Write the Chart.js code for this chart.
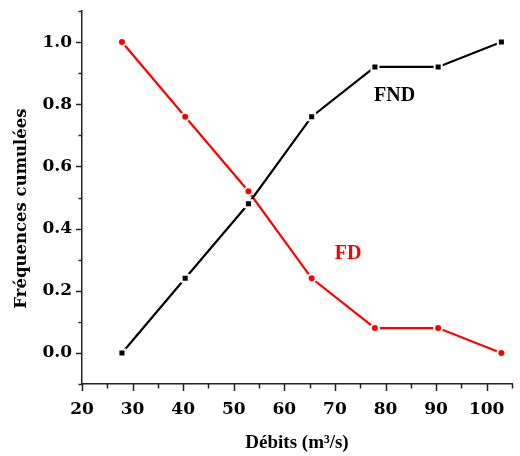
<!DOCTYPE html>
<html>
<head>
<meta charset="utf-8">
<script src="https://cdn.jsdelivr.net/npm/chart.js@4.4.1/dist/chart.umd.min.js"></script>
<style>
  html,body{margin:0;padding:0;background:#fff;}
  #wrap{width:520px;height:456px;}
</style>
</head>
<body>
<div id="wrap"><canvas id="chart" width="520" height="456"></canvas></div>
<script>
// debits (m3/s) and cumulated frequencies
const debits=[27.9,40.4,52.9,65.4,77.9,90.4,102.9];
const fnd=[0,0.24,0.48,0.76,0.92,0.92,1.0];
const fd=[1.0,0.76,0.52,0.24,0.08,0.08,0.0];
const xTickLabels=[20,30,40,50,60,70,80,90,100];
const yTickLabels=[0.0,0.2,0.4,0.6,0.8,1.0];

// series name labels, placed in data units
const seriesLabels=[
  { text:'FND', x:81.8, y:0.827, color:'#000' },
  { text:'FD', x:72.6, y:0.318, color:'#ff0000' }
];

const tickFont={ family:'DejaVu Serif', weight:'bold', size:17 };
const isMajorY=(v)=> yTickLabels.some((t)=> Math.abs(t-v)<1e-6);

const axisTicks={
  id:'axisTicks',
  afterDraw(chart){
    const { ctx, scales:{ x, y } }=chart;
    ctx.save();
    ctx.strokeStyle='#222';
    ctx.lineWidth=1.5;
    x.ticks.forEach((t)=>{
      const px=Math.round(x.getPixelForValue(t.value))+0.5;
      const len=xTickLabels.includes(t.value) ? 7 : 4.5;
      ctx.beginPath(); ctx.moveTo(px,x.top); ctx.lineTo(px,x.top+len); ctx.stroke();
    });
    y.ticks.forEach((t)=>{
      const py=Math.round(y.getPixelForValue(t.value))+0.5;
      const len=isMajorY(t.value) ? 6 : 3.5;
      ctx.beginPath(); ctx.moveTo(y.right,py); ctx.lineTo(y.right-len,py); ctx.stroke();
    });
    ctx.textAlign='center';
    ctx.textBaseline='middle';
    ctx.font='bold 20px "Liberation Serif"';
    seriesLabels.forEach((l)=>{
      ctx.fillStyle=l.color;
      ctx.fillText(l.text,x.getPixelForValue(l.x),y.getPixelForValue(l.y));
    });
    // y title, a little below the middle of the axis as in the source
    ctx.fillStyle='#000';
    ctx.font='bold 16.5px "DejaVu Serif"';
    ctx.translate(y.left+22,(y.top+y.bottom)/2+11);
    ctx.rotate(-Math.PI/2);
    ctx.fillText('Fréquences cumulées',0,0);
    ctx.restore();
  }
};

new Chart(document.getElementById('chart'),{
  type:'line',
  data:{
    datasets:[{
      label:'FND',
      data:debits.map((d,i)=>({ x:d, y:fnd[i] })),
      borderColor:'#000',
      borderWidth:2.2,
      pointStyle:'rect',
      pointRadius:5,
      pointBackgroundColor:'#000',
      pointBorderColor:'#fff',
      pointBorderWidth:2,
      tension:0
    },{
      label:'FD',
      data:debits.map((d,i)=>({ x:d, y:fd[i] })),
      borderColor:'#ff0000',
      borderWidth:2.2,
      pointStyle:'circle',
      pointRadius:4,
      pointBackgroundColor:'#ff0000',
      pointBorderColor:'#fff',
      pointBorderWidth:2,
      tension:0
    }]
  },
  options:{
    responsive:false,
    animation:false,
    layout:{ padding:{ top:11, right:8, left:0, bottom:0 } },
    plugins:{ legend:{ display:false }, tooltip:{ enabled:false } },
    scales:{
      x:{
        type:'linear',
        min:20, max:105,
        grid:{ display:false, drawTicks:false },
        border:{ display:true, color:'#222', width:1.5 },
        ticks:{
          stepSize:5, autoSkip:false, maxRotation:0, padding:15,
          color:'#000', font:tickFont,
          callback:(v)=> xTickLabels.includes(v) ? String(v) : ''
        },
        title:{
          display:true, text:'Débits (m³/s)', color:'#000',
          font:{ family:'Liberation Serif', weight:'bold', size:19 },
          padding:{ top:0, bottom:2 }
        },
        afterFit:(s)=>{ s.height=72; s.paddingLeft=0; s.paddingRight=0; }
      },
      y:{
        min:-0.1, max:1.1,
        grid:{ display:false, drawTicks:false },
        border:{ display:true, color:'#222', width:1.5 },
        ticks:{
          stepSize:0.1, autoSkip:false, padding:10,
          color:'#000', font:tickFont,
          callback:(v)=> isMajorY(v) ? Number(v).toFixed(1) : ''
        },
        title:{ display:false },
        afterFit:(s)=>{ s.width=82; s.paddingTop=0; s.paddingBottom=0; }
      }
    }
  },
  plugins:[axisTicks]
});
</script>
</body>
</html>
